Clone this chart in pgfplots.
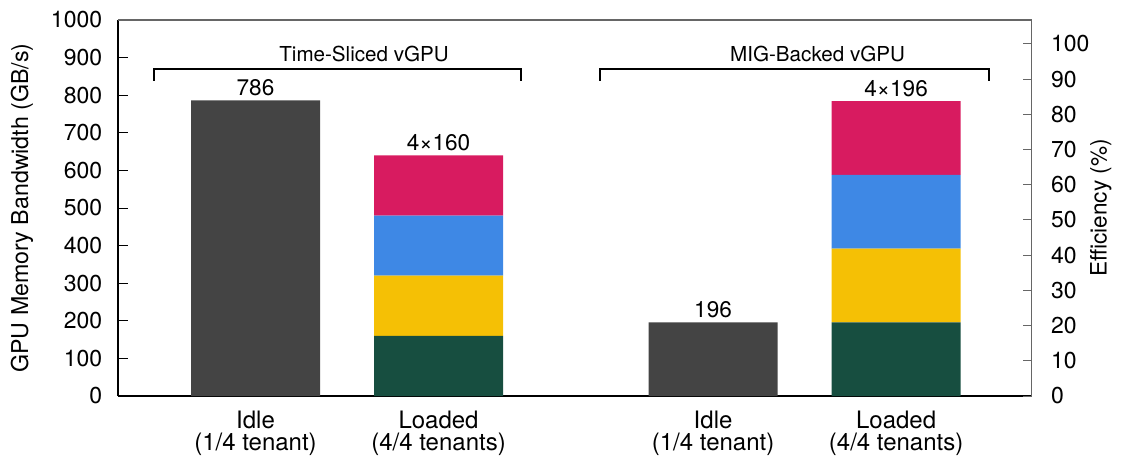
\documentclass[border=0pt]{standalone}
\usepackage{fontspec}
\setmainfont{TeX Gyre Heros}
\usepackage{pgfplots}
\pgfplotsset{compat=1.18}
\definecolor{cgray}{HTML}{444444}
\definecolor{cgreen}{HTML}{174E40}
\definecolor{cyellow}{HTML}{F5C005}
\definecolor{cblue}{HTML}{3E88E5}
\definecolor{cred}{HTML}{D81B60}
\definecolor{frame}{HTML}{666666}
\begin{document}
\begin{tikzpicture}
\useasboundingbox (0,0) rectangle (561pt,231.5pt);
\begin{axis}[
  at={(59pt,33.5pt)}, anchor=south west,
  scale only axis, width=456.8pt, height=188pt,
  xmin=-0.7514, xmax=4.2404, ymin=0, ymax=1000,
  enlargelimits=false,
  axis x line*=bottom, axis y line*=left,
  axis line style={line width=0.7pt, black},
  ybar stacked, bar width=0.705,
  xtick={0,1,2.5,3.5},
  xticklabels={Idle\\(1/4 tenant), Loaded\\(4/4 tenants), Idle\\(1/4 tenant), Loaded\\(4/4 tenants)},
  x tick style={draw=none},
  xticklabel style={align=center, font=\fontsize{12}{10.85}\selectfont, yshift=-3.9pt},
  ytick={0,100,...,1000},
  tick align=inside, major tick length=5pt,
  y tick style={line width=0.5pt, black},
  yticklabel style={font=\fontsize{11.5}{13}\selectfont, xshift=-4.4pt},
  /pgf/number format/assume math mode=true,
  /pgf/number format/1000 sep={},
  ylabel={GPU Memory Bandwidth (GB/s)},
  every axis y label/.style={at={(axis description cs:-0.1051,0.5)}, anchor=center, rotate=90, font=\fontsize{11.6}{14}\selectfont},
  clip=false,
]
\addplot[fill=cgray, draw=none] coordinates {(0,786) (1,0) (2.5,196) (3.5,0)};
\addplot[fill=cgreen, draw=none] coordinates {(0,0) (1,160) (2.5,0) (3.5,196)};
\addplot[fill=cyellow, draw=none] coordinates {(0,0) (1,160) (2.5,0) (3.5,196)};
\addplot[fill=cblue, draw=none] coordinates {(0,0) (1,160) (2.5,0) (3.5,196)};
\addplot[fill=cred, draw=none] coordinates {(0,0) (1,160) (2.5,0) (3.5,196)};
\node[anchor=base, yshift=2.5pt, font=\fontsize{11.3}{13}\selectfont] at (axis cs:0,786) {786};
\node[anchor=base, yshift=2.5pt, font=\fontsize{11.3}{13}\selectfont] at (axis cs:1,640) {4×160};
\node[anchor=base, yshift=2.5pt, font=\fontsize{11.3}{13}\selectfont] at (axis cs:2.5,196) {196};
\node[anchor=base, yshift=2.5pt, font=\fontsize{11.3}{13}\selectfont] at (axis cs:3.5,784) {4×196};
\draw[line width=0.8pt] (axis cs:-0.5546,838.6) -- (axis cs:-0.5546,869) -- (axis cs:1.4508,869) -- (axis cs:1.4508,838.6);
\draw[line width=0.8pt] (axis cs:1.8825,838.6) -- (axis cs:1.8825,869) -- (axis cs:4.008,869) -- (axis cs:4.008,838.6);
\node[anchor=base, font=\fontsize{10.3}{12}\selectfont] at (axis cs:0.593,889) {Time-Sliced vGPU};
\node[anchor=base, font=\fontsize{10.3}{12}\selectfont] at (axis cs:3.071,889) {MIG-Backed vGPU};
\end{axis}
\begin{axis}[
  at={(59pt,33.5pt)}, anchor=south west,
  scale only axis, width=456.8pt, height=188pt,
  xmin=-0.7514, xmax=4.2404, ymin=0, ymax=106.8,
  enlargelimits=false,
  axis x line*=top, axis y line*=right,
  axis line style={line width=0.7pt, frame},
  xtick=\empty,
  ytick={0,10,...,100},
  tick align=inside, major tick length=4.5pt,
  y tick style={line width=0.5pt, frame},
  yticklabel style={font=\fontsize{11.5}{13}\selectfont, xshift=6.2pt},
  /pgf/number format/assume math mode=true,
  ylabel={Efficiency (\%)},
  every axis y label/.style={at={(axis description cs:1.0758,0.5)}, anchor=center, rotate=90, font=\fontsize{11.3}{14}\selectfont},
]
\addplot[draw=none] coordinates {(0,0)};
\end{axis}
\end{tikzpicture}
\end{document}
